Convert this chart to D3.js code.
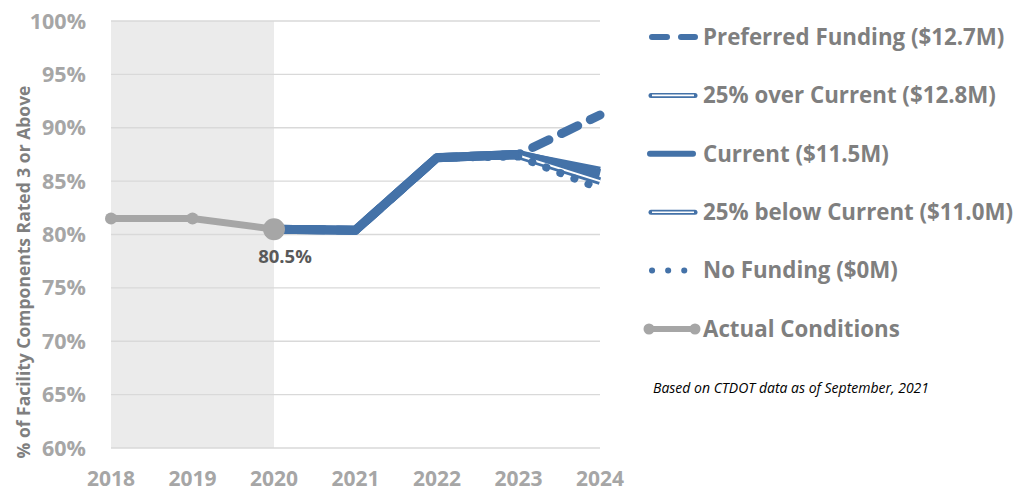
<!DOCTYPE html>
<html>
<head>
<meta charset="utf-8">
<script src="https://cdn.jsdelivr.net/npm/d3@7"></script>
<style>
  body { margin: 0; background: #fff; }
  svg text { font-family: "Open Sans", Lato, sans-serif; }
</style>
</head>
<body>
<svg id="chart" width="1019" height="493"></svg>
<script>
// data
const years = [2018, 2019, 2020, 2021, 2022, 2023, 2024];
const yTicks = [0.60, 0.65, 0.70, 0.75, 0.80, 0.85, 0.90, 0.95, 1.00];

const actualYears = [2018, 2019, 2020];
const actualValues = [0.815, 0.815, 0.805];

const projYears = [2020, 2021, 2022, 2023, 2024];
const preferredValues = [0.805, 0.804, 0.872, 0.875, 0.912];
const overCurrentValues = [0.805, 0.804, 0.872, 0.875, 0.860];
const currentValues = [0.805, 0.804, 0.872, 0.875, 0.857];
const belowCurrentValues = [0.805, 0.804, 0.872, 0.874, 0.850];
const noFundingValues = [0.805, 0.804, 0.872, 0.873, 0.843];

const legendLabels = [
  "Preferred Funding ($12.7M)",
  "25% over Current ($12.8M)",
  "Current ($11.5M)",
  "25% below Current ($11.0M)",
  "No Funding ($0M)",
  "Actual Conditions"
];

const blue = "#4472a8";
const grey = "#a6a6a6";

const svg = d3.select("#chart");
const x = d3.scaleLinear().domain([2018, 2024]).range([111, 600]);
const y = d3.scaleLinear().domain([0.60, 1.00]).range([448, 21]);

// shaded "actual" area
svg.append("rect")
  .attr("x", x(2018)).attr("y", y(1))
  .attr("width", x(2020) - x(2018)).attr("height", y(0.6) - y(1))
  .attr("fill", "#ebebeb");

// gridlines
svg.append("g").selectAll("line")
  .data(yTicks)
  .join("line")
    .attr("x1", x(2018)).attr("x2", x(2024))
    .attr("y1", d => y(d)).attr("y2", d => y(d))
    .attr("stroke", "#d9d9d9").attr("stroke-width", 1.3);

// y tick labels
svg.append("g").selectAll("text")
  .data(yTicks)
  .join("text")
    .attr("x", 86).attr("y", d => y(d))
    .attr("dy", "0.35em")
    .attr("text-anchor", "end")
    .attr("font-size", 21.5).attr("font-weight", "bold")
    .attr("fill", grey)
    .text(d3.format(".0%"));

// x tick labels
svg.append("g").selectAll("text")
  .data(years)
  .join("text")
    .attr("x", d => x(d)).attr("y", 479)
    .attr("dy", "0.35em")
    .attr("text-anchor", "middle")
    .attr("font-size", 21).attr("font-weight", "bold")
    .attr("fill", grey)
    .text(d => d);

// axis title
svg.append("text")
  .attr("transform", "translate(24,272) rotate(-90)")
  .attr("text-anchor", "middle")
  .attr("dy", "0.35em")
  .attr("font-size", 17.5).attr("font-weight", "bold")
  .attr("fill", "#7f7f7f")
  .text("% of Facility Components Rated 3 or Above");

const line = d3.line().x(d => x(d[0])).y(d => y(d[1]));
const zip = (xs, vs) => xs.map((v, i) => [v, vs[i]]);

const plot = svg.append("g");

function doubleLine(vals) {
  plot.append("path").attr("d", line(zip(projYears, vals)))
    .attr("fill", "none").attr("stroke", blue).attr("stroke-width", 7.5)
    .attr("stroke-linejoin", "round");
  plot.append("path").attr("d", line(zip(projYears, vals)))
    .attr("fill", "none").attr("stroke", "#fff").attr("stroke-width", 2)
    .attr("stroke-linejoin", "round");
}

// preferred (dashed)
plot.append("path").attr("d", line(zip(projYears, preferredValues)))
  .attr("fill", "none").attr("stroke", blue).attr("stroke-width", 9)
  .attr("stroke-dasharray", "18,14").attr("stroke-linecap", "round");
doubleLine(overCurrentValues);
plot.append("path").attr("d", line(zip(projYears, currentValues)))
  .attr("fill", "none").attr("stroke", blue).attr("stroke-width", 9)
  .attr("stroke-linejoin", "round");
doubleLine(belowCurrentValues);
plot.append("path").attr("d", line(zip(projYears, noFundingValues)))
  .attr("fill", "none").attr("stroke", blue).attr("stroke-width", 8)
  .attr("stroke-dasharray", "0.1,15").attr("stroke-linecap", "round");
// solid cover for the shared stretch
plot.append("path").attr("d", line(zip(projYears.slice(0, 4), currentValues.slice(0, 4))))
  .attr("fill", "none").attr("stroke", blue).attr("stroke-width", 9)
  .attr("stroke-linejoin", "round");

// actual conditions
const actual = zip(actualYears, actualValues);
plot.append("path").attr("d", line(actual))
  .attr("fill", "none").attr("stroke", grey).attr("stroke-width", 7);
plot.selectAll("circle.act")
  .data(actual)
  .join("circle")
    .attr("class", "act")
    .attr("cx", d => x(d[0])).attr("cy", d => y(d[1]))
    .attr("r", (d, i) => i === actual.length - 1 ? 11 : 6)
    .attr("fill", grey);

svg.append("text")
  .attr("x", x(2020) + 11).attr("y", 257)
  .attr("dy", "0.35em")
  .attr("text-anchor", "middle")
  .attr("font-size", 18.5).attr("font-weight", "bold")
  .attr("fill", "#595959")
  .text("80.5%");

// legend
const lx1 = 649, lx2 = 695;
const legend = svg.append("g");
legendLabels.forEach((lab, i) => {
  const ly = 37 + i * 58.4;
  const g = legend.append("g");
  if (i === 0) {
    g.append("line").attr("x1", lx1 + 3).attr("x2", lx2).attr("y1", ly).attr("y2", ly)
      .attr("stroke", blue).attr("stroke-width", 6).attr("stroke-linecap", "round")
      .attr("stroke-dasharray", "15,14");
  } else if (i === 1 || i === 3) {
    g.append("line").attr("x1", lx1 + 2).attr("x2", lx2).attr("y1", ly).attr("y2", ly)
      .attr("stroke", blue).attr("stroke-width", 5).attr("stroke-linecap", "round");
    g.append("line").attr("x1", lx1 + 3).attr("x2", lx2 - 1).attr("y1", ly).attr("y2", ly)
      .attr("stroke", "#fff").attr("stroke-width", 1.6);
  } else if (i === 2) {
    g.append("line").attr("x1", lx1 + 1).attr("x2", lx2 - 2).attr("y1", ly).attr("y2", ly)
      .attr("stroke", blue).attr("stroke-width", 6).attr("stroke-linecap", "round");
  } else if (i === 4) {
    g.append("line").attr("x1", lx1 + 3).attr("x2", lx2).attr("y1", ly).attr("y2", ly)
      .attr("stroke", blue).attr("stroke-width", 6).attr("stroke-linecap", "round")
      .attr("stroke-dasharray", "0.1,16");
  } else {
    g.append("line").attr("x1", lx1).attr("x2", lx2).attr("y1", ly).attr("y2", ly)
      .attr("stroke", grey).attr("stroke-width", 6);
    g.selectAll("circle").data([lx1, lx2]).join("circle")
      .attr("cx", d => d).attr("cy", ly).attr("r", 5.5).attr("fill", grey);
  }
  g.append("text")
    .attr("x", 703).attr("y", ly)
    .attr("dy", "0.35em")
    .attr("font-size", 22.3).attr("font-weight", "bold")
    .attr("fill", "#7f7f7f")
    .text(lab);
});

svg.append("text")
  .attr("x", 653).attr("y", 388)
  .attr("dy", "0.35em")
  .attr("font-size", 14).attr("font-style", "italic")
  .attr("fill", "#000")
  .text("Based on CTDOT data as of September, 2021");
</script>
</body>
</html>
